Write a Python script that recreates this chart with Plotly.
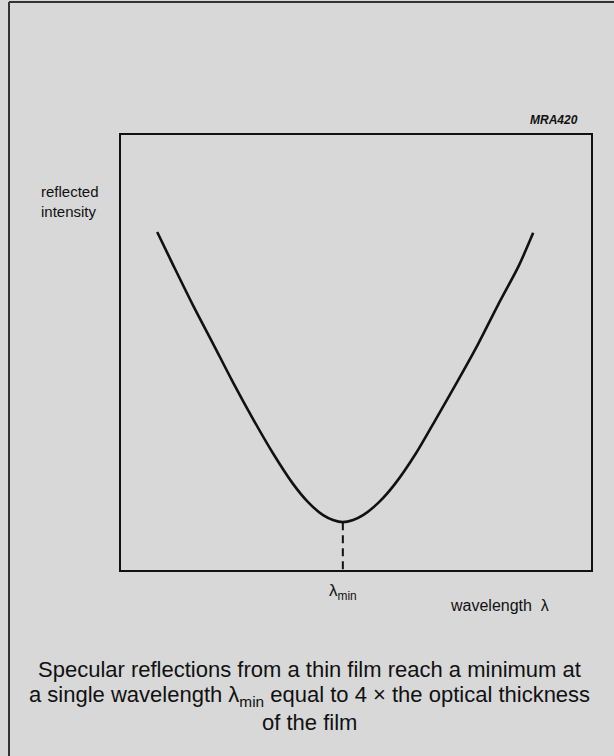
import plotly.graph_objects as go

# Reflected intensity vs wavelength for a thin film (arbitrary units, 0-100 on both axes)
wavelength = [7.7, 11.1, 15.3, 19.6, 23.8, 28.1, 32.3, 36.6, 39.8, 43.0, 45.1, 47.2,
              49.4, 51.5, 54.9, 58.3, 62.8, 67.0, 71.5, 76.0, 80.2, 84.7, 87.7]
intensity = [77.7, 70.1, 60.9, 52.0, 43.2, 34.7, 26.9, 19.8, 15.6, 12.6, 11.5, 11.0,
             11.5, 12.6, 15.6, 19.8, 26.9, 34.7, 43.2, 52.0, 60.9, 70.1, 77.5]

lambda_min = 47.2
min_intensity = 11.0

y_label = "reflected<br>intensity"
x_label = "wavelength  λ"
min_label = "λ<sub>min</sub>"
code_label = "MRA420"
caption_lines = [
    "Specular reflections from a thin film reach a minimum at",
    "a single wavelength λ<sub>min</sub> equal to 4 × the optical thickness",
    "of the film",
]

BG = "#d8d8d8"
INK = "#111111"
FONT = "Liberation Sans, Arial, sans-serif"

# plot-area geometry in pixels (used to place text in paper coordinates)
L, R, T, B = 121, 591, 135, 570
W, H = R - L, B - T


def px(xp):
    return (xp - L) / W


def py(yp):
    return (B - yp) / H


fig = go.Figure()

fig.add_trace(go.Scatter(
    x=wavelength, y=intensity, mode="lines",
    line=dict(color=INK, width=2.6, shape="spline", smoothing=0.8),
    hoverinfo="skip", showlegend=False,
))

# dashed drop line from the minimum to the wavelength axis
fig.add_trace(go.Scatter(
    x=[lambda_min, lambda_min], y=[min_intensity, 0], mode="lines",
    line=dict(color=INK, width=2, dash="8px,5px"),
    hoverinfo="skip", showlegend=False,
))

axis_common = dict(showgrid=False, zeroline=False, showticklabels=False, ticks="",
                   showline=True, mirror=True, linecolor=INK, linewidth=2)
fig.update_xaxes(range=[0, 100], **axis_common)
fig.update_yaxes(range=[0, 100], **axis_common)

annotations = [
    dict(text=y_label, x=px(39), y=py(201), xref="paper", yref="paper",
         xanchor="left", yanchor="middle", align="left", showarrow=False,
         font=dict(size=15, color=INK, family=FONT)),
    dict(text=f"<b><i>{code_label}</i></b>", x=px(580), y=py(120),
         xref="paper", yref="paper", xanchor="right", yanchor="middle", showarrow=False,
         font=dict(size=12, color=INK, family=FONT)),
    dict(text=min_label, x=lambda_min, y=py(592), xref="x", yref="paper",
         xanchor="center", yanchor="middle", showarrow=False,
         font=dict(size=17, color=INK, family=FONT)),
    dict(text=x_label, x=px(448), y=py(605), xref="paper", yref="paper",
         xanchor="left", yanchor="middle", showarrow=False,
         font=dict(size=16, color=INK, family=FONT)),
]
for line_text, y_pix in zip(caption_lines, [669, 696, 722]):
    annotations.append(dict(
        text=line_text, x=px(309), y=py(y_pix), xref="paper", yref="paper",
        xanchor="center", yanchor="middle", showarrow=False,
        font=dict(size=22, color=INK, family=FONT)))

# outer frame lines (left and top edges)
shapes = [
    dict(type="line", xref="paper", yref="paper", x0=px(9), x1=px(9),
         y0=py(2), y1=py(756), line=dict(color="#333333", width=2)),
    dict(type="line", xref="paper", yref="paper", x0=px(9), x1=px(614),
         y0=py(2), y1=py(2), line=dict(color="#333333", width=2)),
]

fig.update_layout(
    width=614, height=756,
    margin=dict(l=L, r=614 - R, t=T, b=756 - B, pad=0),
    paper_bgcolor=BG, plot_bgcolor=BG,
    annotations=annotations, shapes=shapes,
    font=dict(family=FONT, color=INK),
)

fig.write_html("out.html")
